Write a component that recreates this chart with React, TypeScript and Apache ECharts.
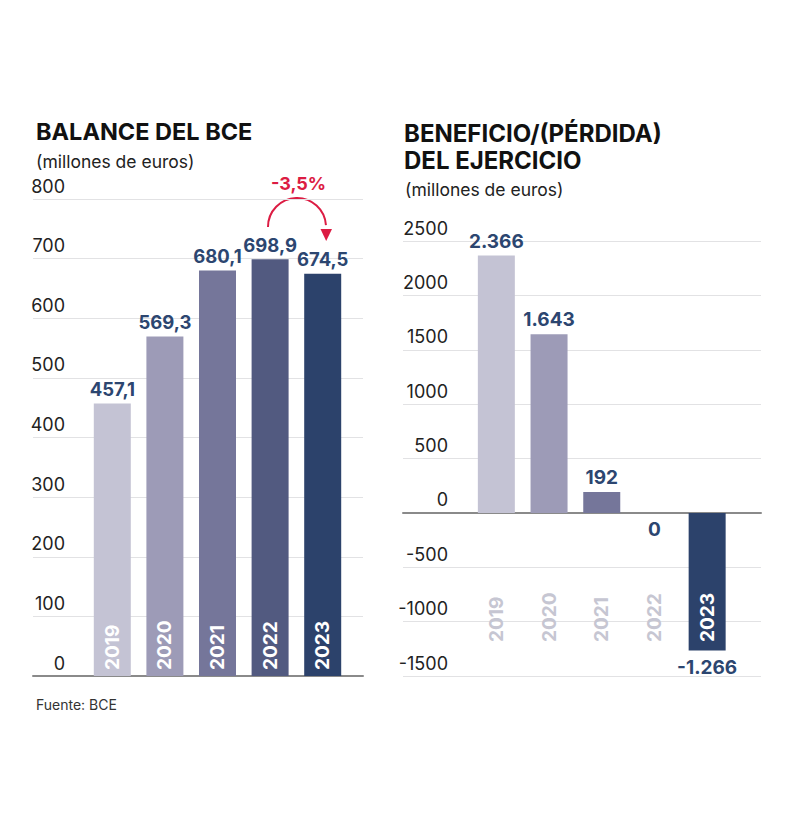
import React, { useEffect, useRef } from "react";
import * as echarts from "echarts";

const years = ["2019", "2020", "2021", "2022", "2023"];
const balance = [457.1, 569.3, 680.1, 698.9, 674.5];
const profit = [2366, 1643, 192, 0, -1266];
const barColors = ["#c4c3d4", "#9d9bb7", "#75769a", "#525a80", "#2c426b"];
const balanceScale = [0, 800, 100]; // min, max, interval
const profitScale = [-1500, 2500, 500];
const changeLabel = "-3,5%";

const FONT = "Inter, 'Liberation Sans', Arial, sans-serif";
const NAVY = "#2c4670";

const fmtBalance = (v: number) => v.toFixed(1).replace(".", ",");
const fmtProfit = (v: number) => {
  const s = Math.abs(v).toString().replace(/\B(?=(\d{3})+(?!\d))/g, ".");
  return (v < 0 ? "-" : "") + s;
};

export default function App() {
  const ref = useRef<HTMLDivElement>(null);

  useEffect(() => {
    if (!ref.current) return;
    const chart = echarts.init(ref.current, undefined, { renderer: "svg" });

    const gridLine = { lineStyle: { color: "#e2e2e4", width: 1 } };
    const zeroLine = { show: true, onZero: true, lineStyle: { color: "#8a8a8a", width: 2 } };
    const tickLabel = (margin: number) => ({
      inside: true,
      align: "right",
      verticalAlign: "bottom",
      margin,
      padding: [0, 0, 4, 0],
      color: "#222",
      fontSize: 18,
      fontFamily: FONT,
      formatter: (v: number) => String(v),
    });

    const option: any = {
      animation: false,
      backgroundColor: "#fff",
      grid: [
        { left: 33, top: 199, width: 330, height: 477 },
        { left: 86, top: 199, width: 263, height: 477 },
        { left: 403, top: 241, width: 358, height: 435 },
        { left: 470, top: 241, width: 263.5, height: 435 },
      ],
      xAxis: [
        {
          gridIndex: 0, type: "value", min: 0, max: 1,
          axisLine: zeroLine, axisTick: { show: false }, axisLabel: { show: false }, splitLine: { show: false },
        },
        {
          gridIndex: 1, type: "category", data: years, z: 10,
          axisLine: { show: false }, axisTick: { show: false },
          axisLabel: {
            inside: true, rotate: 90, margin: 6, color: "#fff",
            fontWeight: "bold", fontSize: 19, fontFamily: FONT,
          },
        },
        {
          gridIndex: 2, type: "value", min: 0, max: 1,
          axisLine: zeroLine, axisTick: { show: false }, axisLabel: { show: false }, splitLine: { show: false },
        },
        {
          gridIndex: 3, type: "category", data: years, z: 10,
          axisLine: { show: false }, axisTick: { show: false },
          axisLabel: {
            inside: true, rotate: 90, margin: 34,
            formatter: (v: string, i: number) => (i === years.length - 1 ? `{w|${v}}` : `{g|${v}}`),
            rich: {
              w: { color: "#fff", fontWeight: "bold", fontSize: 19, fontFamily: FONT },
              g: { color: "#c6c6d2", fontWeight: "bold", fontSize: 19, fontFamily: FONT },
            },
          },
        },
      ],
      yAxis: [
        {
          gridIndex: 0, type: "value", min: balanceScale[0], max: balanceScale[1], interval: balanceScale[2],
          axisLine: { show: false }, axisTick: { show: false },
          axisLabel: tickLabel(32), splitLine: gridLine,
        },
        { gridIndex: 1, type: "value", min: balanceScale[0], max: balanceScale[1], show: false },
        {
          gridIndex: 2, type: "value", min: profitScale[0], max: profitScale[1], interval: profitScale[2],
          axisLine: { show: false }, axisTick: { show: false },
          axisLabel: tickLabel(45), splitLine: gridLine,
        },
        { gridIndex: 3, type: "value", min: profitScale[0], max: profitScale[1], show: false },
      ],
      series: [
        {
          type: "bar", xAxisIndex: 1, yAxisIndex: 1, barWidth: 37,
          data: balance.map((v, i) => ({ value: v, itemStyle: { color: barColors[i] } })),
          label: {
            show: true, position: "top", distance: 5,
            formatter: (p: any) => fmtBalance(p.value),
            color: NAVY, fontWeight: "bold", fontSize: 18.5, fontFamily: FONT,
          },
        },
        {
          type: "bar", xAxisIndex: 3, yAxisIndex: 3, barWidth: 37,
          data: profit.map((v, i) => ({
            value: v,
            itemStyle: { color: barColors[i] },
            label: { position: v > 0 ? "top" : "bottom", distance: v > 0 ? 5 : 7 },
          })),
          label: {
            show: true,
            formatter: (p: any) => fmtProfit(p.value),
            color: NAVY, fontWeight: "bold", fontSize: 19, fontFamily: FONT,
          },
        },
      ],
      graphic: [
        { type: "text", x: 36, y: 131, style: { text: "BALANCE DEL BCE", font: `bold 23.5px ${FONT}`, fill: "#111", verticalAlign: "middle" } },
        { type: "text", x: 36, y: 161, style: { text: "(millones de euros)", font: `17.5px ${FONT}`, fill: "#222", verticalAlign: "middle" } },
        { type: "text", x: 404, y: 133, style: { text: "BENEFICIO/(PÉRDIDA)", font: `bold 24px ${FONT}`, fill: "#111", verticalAlign: "middle" } },
        { type: "text", x: 404, y: 160, style: { text: "DEL EJERCICIO", font: `bold 24px ${FONT}`, fill: "#111", verticalAlign: "middle" } },
        { type: "text", x: 405, y: 189, style: { text: "(millones de euros)", font: `17.5px ${FONT}`, fill: "#222", verticalAlign: "middle" } },
        { type: "text", x: 36, y: 704, style: { text: "Fuente: BCE", font: `14px ${FONT}`, fill: "#333", verticalAlign: "middle" } },
        { type: "text", x: 298.5, y: 183, style: { text: changeLabel, font: `bold 18px ${FONT}`, fill: "#dc1c43", align: "center", verticalAlign: "middle" } },
        {
          type: "arc",
          shape: { cx: 297, cy: 227, r: 29, startAngle: Math.PI, endAngle: Math.PI * 1.98, clockwise: true },
          style: { stroke: "#dc1c43", lineWidth: 2, fill: "none" },
        },
        {
          type: "polygon",
          shape: { points: [[320.5, 229], [332, 229], [326.2, 241]] },
          style: { fill: "#dc1c43" },
        },
      ],
    };

    chart.setOption(option);
    return () => chart.dispose();
  }, []);

  return (
    <div
      ref={ref}
      style={{ position: "fixed", left: 0, top: 0, width: 800, height: 839, background: "#fff" }}
    />
  );
}
